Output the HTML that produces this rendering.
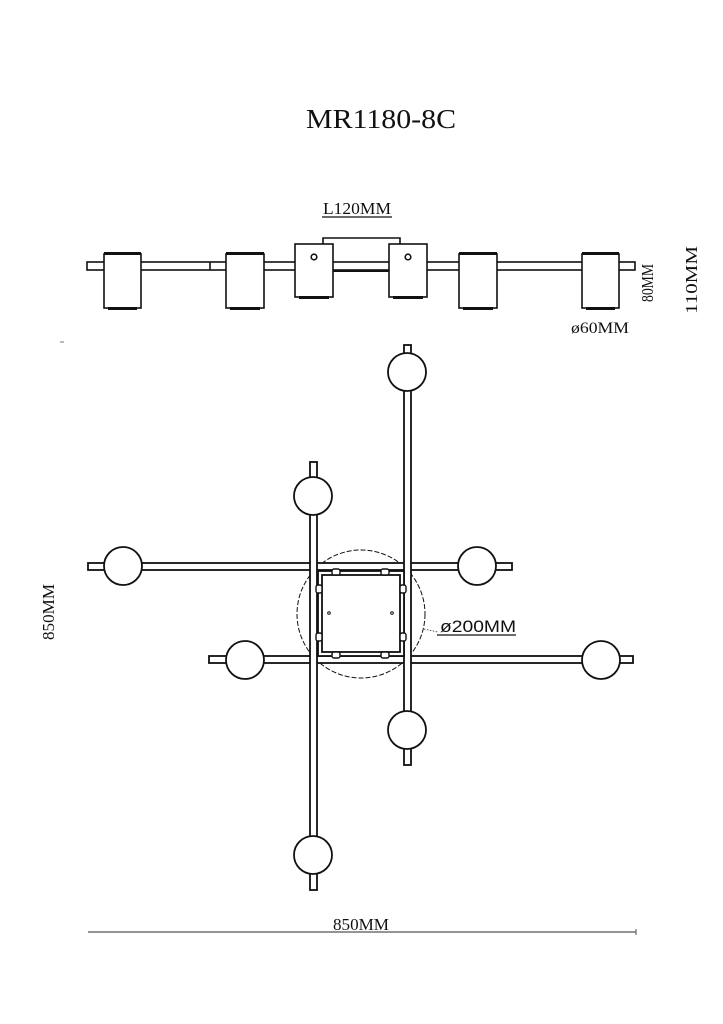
<!DOCTYPE html>
<html><head><meta charset="utf-8"><style>
html,body{margin:0;padding:0;background:#fff;}
svg{display:block;}
.s{font-family:"Liberation Serif",serif;fill:#111;}
</style></head><body>
<svg width="723" height="1024" viewBox="0 0 723 1024" xmlns="http://www.w3.org/2000/svg">
<rect width="723" height="1024" fill="#fff"/>
<text class="s" x="381" y="128" font-size="27" text-anchor="middle" textLength="150" lengthAdjust="spacingAndGlyphs">MR1180-8C</text>

<!-- side view -->
<g fill="#fff" stroke="#111" stroke-width="1.6">
<text class="s" x="357" y="214" font-size="17" text-anchor="middle" stroke="none" textLength="68" lengthAdjust="spacingAndGlyphs">L120MM</text>
<line x1="322" y1="217" x2="392" y2="217" stroke-width="1.2"/>
<polyline points="323,244 323,238 400,238 400,244" fill="none"/>
<rect x="87" y="262" width="548" height="8"/>
<line x1="210" y1="262" x2="210" y2="270"/>
<line x1="333" y1="271" x2="389" y2="271" stroke-width="2"/>
<rect x="104" y="254" width="37" height="54"/>
<rect x="226" y="254" width="38" height="54"/>
<rect x="295" y="244" width="38" height="53"/>
<rect x="389" y="244" width="38" height="53"/>
<rect x="459" y="254" width="38" height="54"/>
<rect x="582" y="254" width="37" height="54"/>
<circle cx="314" cy="257" r="2.8"/>
<circle cx="408" cy="257" r="2.8"/>
</g>
<g fill="#111">
<rect x="104" y="252" width="37" height="3"/><rect x="226" y="252" width="38" height="3"/>
<rect x="459" y="252" width="38" height="3"/><rect x="582" y="252" width="37" height="3"/>
<rect x="108" y="307" width="29" height="3"/><rect x="230" y="307" width="30" height="3"/>
<rect x="299" y="296" width="30" height="3"/><rect x="393" y="296" width="30" height="3"/>
<rect x="463" y="307" width="30" height="3"/><rect x="586" y="307" width="29" height="3"/>
</g>
<text class="s" font-size="17" transform="translate(653,283) rotate(-90)" text-anchor="middle" textLength="38" lengthAdjust="spacingAndGlyphs">80MM</text>
<text class="s" font-size="17" transform="translate(697,280) rotate(-90)" text-anchor="middle" textLength="68" lengthAdjust="spacingAndGlyphs">110MM</text>
<text class="s" x="600" y="333" font-size="16" text-anchor="middle" textLength="58" lengthAdjust="spacingAndGlyphs">ø60MM</text>
<line x1="60" y1="342" x2="64" y2="342" stroke="#777" stroke-width="1"/>

<!-- top view -->
<g fill="#fff" stroke="#111" stroke-width="1.8">
<circle cx="361" cy="614" r="64" stroke-dasharray="5,2" stroke-width="1"/>
<rect x="88" y="563" width="424" height="7"/>
<rect x="209" y="656" width="424" height="7"/>
<rect x="310" y="462" width="7" height="428"/>
<rect x="404" y="345" width="7" height="420"/>
<rect x="318" y="571" width="86" height="85"/>
<rect x="322" y="575" width="78" height="77"/>
<g stroke-width="1.4">
<rect x="332" y="569" width="8" height="6" rx="2"/><rect x="381" y="569" width="8" height="6" rx="2"/>
<rect x="332" y="652" width="8" height="6" rx="2"/><rect x="381" y="652" width="8" height="6" rx="2"/>
<rect x="316" y="585" width="6" height="8" rx="2"/><rect x="400" y="585" width="6" height="8" rx="2"/>
<rect x="316" y="633" width="6" height="8" rx="2"/><rect x="400" y="633" width="6" height="8" rx="2"/>
</g>
<circle cx="329" cy="613" r="1.3" stroke-width="1"/><circle cx="392" cy="613" r="1.3" stroke-width="1"/>
<circle cx="407" cy="372" r="19"/>
<circle cx="313" cy="496" r="19"/>
<circle cx="123" cy="566" r="19"/>
<circle cx="477" cy="566" r="19"/>
<circle cx="245" cy="660" r="19"/>
<circle cx="601" cy="660" r="19"/>
<circle cx="407" cy="730" r="19"/>
<circle cx="313" cy="855" r="19"/>
</g>
<line x1="424" y1="629" x2="438" y2="632" stroke="#555" stroke-width="1" stroke-dasharray="1.5,1.5"/>
<text x="478" y="632" font-family="Liberation Sans, sans-serif" font-size="17" text-anchor="middle" fill="#111" textLength="76" lengthAdjust="spacingAndGlyphs">ø200MM</text>
<line x1="437" y1="635" x2="516" y2="635" stroke="#111" stroke-width="1.2"/>

<text class="s" font-size="17" transform="translate(54,612) rotate(-90)" text-anchor="middle" textLength="56" lengthAdjust="spacingAndGlyphs">850MM</text>
<text class="s" x="361" y="930" font-size="17" text-anchor="middle" textLength="56" lengthAdjust="spacingAndGlyphs">850MM</text>
<line x1="88" y1="932" x2="636" y2="932" stroke="#555" stroke-width="1.2"/>
<line x1="636" y1="929" x2="636" y2="935" stroke="#555" stroke-width="1"/>
</svg>
</body></html>
